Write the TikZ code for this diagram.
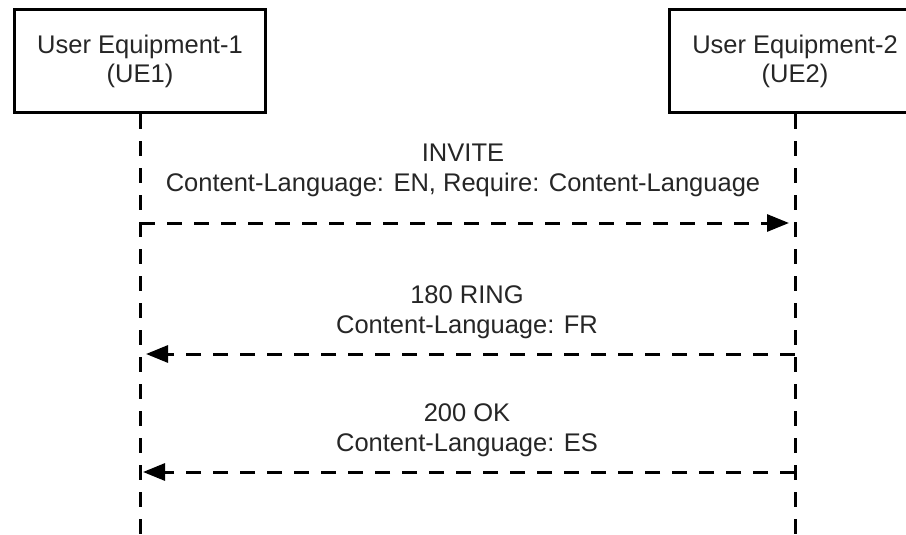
\documentclass[tikz,border=0pt]{standalone}
\usepackage{fontspec}
\setmainfont{Liberation Sans}
\usetikzlibrary{arrows.meta}
\begin{document}
\begin{tikzpicture}[x=1pt,y=-1pt,
  box/.style={draw=black, line width=3pt, minimum width=251pt, minimum height=103pt, align=center, inner sep=0pt, font=\fontsize{25.5}{29}\selectfont, text=black!85},
  life/.style={line width=3pt, dash pattern=on 15pt off 12pt},
  msg/.style={line width=3pt, dash pattern=on 15pt off 12pt, -{Triangle[length=22pt,width=17pt]}, shorten >=6pt},
  lbl/.style={align=center, inner sep=0pt, font=\fontsize{25.5}{30}\selectfont, text=black!85}]
\clip (0,0) rectangle (906,535);
\fill[white] (0,0) rectangle (906,535);
\node[box] (ue1) at (140,61) {User Equipment-1\\(UE1)};
\node[box] (ue2) at (795,61) {User Equipment-2\\(UE2)};
\coordinate (e1) at (140,540);
\coordinate (e2) at (795,540);
\draw[life] (ue1.south) -- (e1);
\draw[life] (ue2.south) -- (e2);
\coordinate (a1s) at (140,223);
\coordinate (a1e) at (795,223);
\coordinate (a2s) at (795,354);
\coordinate (a2e) at (140,354);
\coordinate (a3s) at (795,472);
\coordinate (a3e) at (140,472);
\draw[msg] (a1s) -- (a1e);
\draw[msg] (a2s) -- (a2e);
\draw[msg, shorten >=3pt] (a3s) -- (a3e);
\node[lbl] (l1) at (463,170) {INVITE\\Content-Language: EN, Require: Content-Language};
\node[lbl] (l2) at (467,312) {180 RING\\Content-Language: FR};
\node[lbl] (l3) at (467,430) {200 OK\\Content-Language: ES};
\end{tikzpicture}
\end{document}
